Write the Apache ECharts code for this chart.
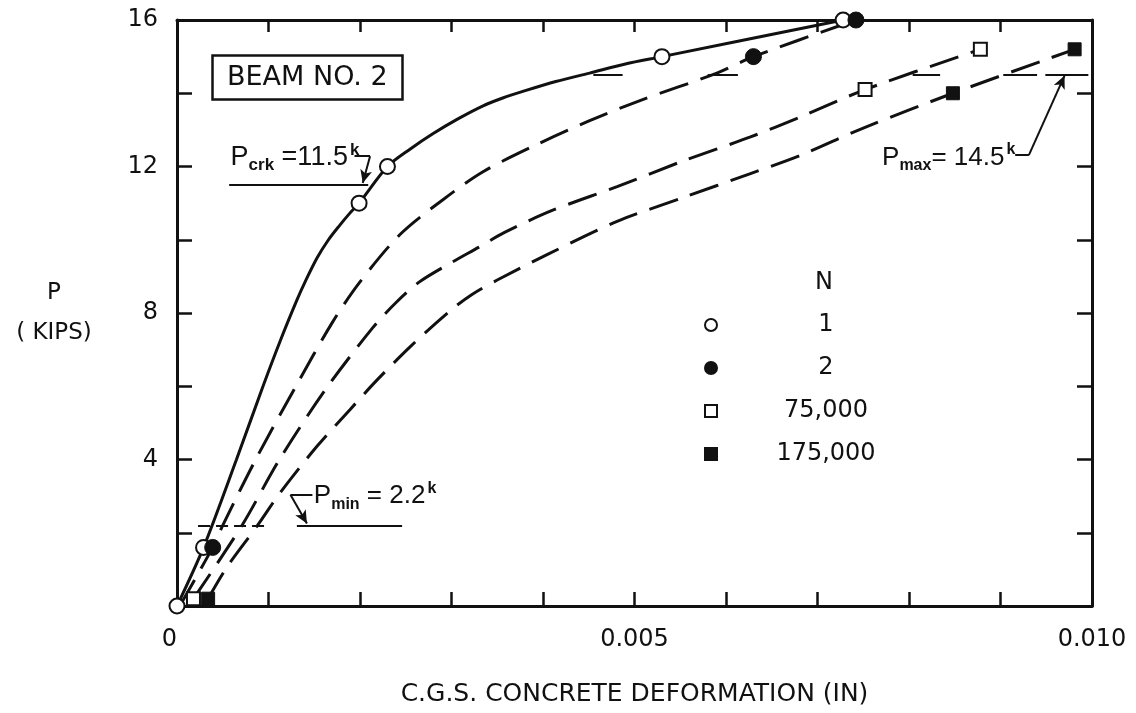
<!DOCTYPE html>
<html>
<head>
<meta charset="utf-8">
<script src="https://cdn.jsdelivr.net/npm/echarts@6/dist/echarts.min.js"></script>
<style>
  html, body { margin: 0; padding: 0; background: #ffffff; }
  #chart { width: 1136px; height: 713px; }
</style>
</head>
<body>
<div id="chart"></div>
<script>
// Load P (kips) against c.g.s. concrete deformation (in), beam no. 2,
// for the loading curves recorded after N cycles.

// N = 1 : smooth curve and measured points
const curveN1Def  = [0, 0.00029, 0.00065, 0.00094, 0.00113, 0.00131, 0.00140, 0.00153, 0.00165, 0.00178, 0.00188, 0.00199, 0.00230, 0.00255, 0.00280, 0.00307, 0.00334, 0.00356, 0.00378, 0.00414, 0.00451, 0.00490, 0.00530, 0.00728];
const curveN1Load = [0, 1.6, 4.0, 6.0, 7.25, 8.35, 8.85, 9.5, 9.98, 10.4, 10.7, 11.0, 12.0, 12.48, 12.9, 13.3, 13.65, 13.87, 14.05, 14.32, 14.55, 14.8, 15.0, 16.0];
const pointsN1Def  = [0, 0.00029, 0.00199, 0.00230, 0.00530, 0.00728];
const pointsN1Load = [0, 1.6, 11.0, 12.0, 15.0, 16.0];

// N = 2
const curveN2Def  = [0.00003, 0.00039, 0.00050, 0.00086, 0.00130, 0.00170, 0.00200, 0.00244, 0.00291, 0.00334, 0.00389, 0.00451, 0.00506, 0.00590, 0.00630, 0.00742];
const curveN2Load = [0, 1.6, 2.2, 4.0, 6.0, 7.75, 8.85, 10.15, 11.1, 11.85, 12.55, 13.25, 13.8, 14.55, 15.0, 16.0];
const pointsN2Def  = [0.00039, 0.00630, 0.00742];
const pointsN2Load = [1.6, 15.0, 16.0];

// N = 75,000
const curveN75Def  = [0.00018, 0.00071, 0.00112, 0.00162, 0.00214, 0.00240, 0.00265, 0.00298, 0.00330, 0.00358, 0.00410, 0.00481, 0.00553, 0.00626, 0.00681, 0.00752, 0.00878];
const curveN75Load = [0.2, 2.2, 4.0, 5.9, 7.6, 8.3, 8.85, 9.35, 9.8, 10.2, 10.8, 11.45, 12.15, 12.8, 13.35, 14.1, 15.2];
const pointsN75Def  = [0.00018, 0.00752, 0.00878];
const pointsN75Load = [0.2, 14.1, 15.2];

// N = 175,000
const curveN175Def  = [0.00034, 0.00055, 0.00088, 0.00113, 0.00153, 0.00189, 0.00219, 0.00257, 0.00298, 0.00322, 0.00350, 0.00405, 0.00481, 0.00553, 0.00626, 0.00681, 0.00750, 0.00848, 0.00981];
const curveN175Load = [0.2, 1.08, 2.2, 3.1, 4.36, 5.36, 6.18, 7.13, 8.05, 8.5, 8.9, 9.6, 10.5, 11.15, 11.8, 12.3, 13.05, 14.0, 15.2];
const pointsN175Def  = [0.00034, 0.00848, 0.00981];
const pointsN175Load = [0.2, 14.0, 15.2];

// Legend entries (number of cycles N)
const cycleLabels = ['1', '2', '75,000', '175,000'];

// Tick labels
const xLabelValues = [0, 0.005, 0.010];
const xLabelTexts  = ['0', '0.005', '0.010'];
const yLabelValues = [4, 8, 12, 16];

// Reference loads
const pCrack = 11.5;
const pMin = 2.2;
const pMax = 14.5;

const ink = '#111111';
const font = 'DejaVu Sans';
const noteFont = 'Liberation Sans';

const zip = (xs, ys) => xs.map((x, i) => [x, ys[i]]);

const curveLine = (data, dashed) => ({
  type: 'line',
  data,
  smooth: 0.3,
  showSymbol: false,
  symbol: 'none',
  silent: true,
  lineStyle: { color: ink, width: 3, type: dashed ? [30, 13] : 'solid', opacity: 1 },
  z: 3
});

const pointSeries = (name, data, shape, filled, size) => ({
  type: 'scatter',
  name,
  data,
  symbol: shape,
  symbolSize: size,
  silent: true,
  itemStyle: filled
    ? { color: ink, borderColor: ink, borderWidth: 1, opacity: 1 }
    : { color: '#ffffff', borderColor: ink, borderWidth: 2, opacity: 1 },
  z: 5
});

// rich-text styles for P_sub = value^k annotations
const annotRich = (size) => ({
  p: { fontFamily: noteFont, fontSize: size, color: ink, lineHeight: 32 },
  s: { fontFamily: noteFont, fontSize: Math.round(size * 0.62), fontWeight: 'bold', color: ink, lineHeight: 12, verticalAlign: 'bottom' },
  k: { fontFamily: noteFont, fontSize: Math.round(size * 0.62), fontWeight: 'bold', color: ink, lineHeight: 16, verticalAlign: 'top', padding: [0, 0, 0, 2] }
});

const annotLabel = (x, y, text, size) => ({
  value: [x, y],
  label: {
    show: true,
    position: 'right',
    distance: 0,
    color: ink,
    opacity: 1,
    formatter: text,
    rich: annotRich(size)
  }
});

const annotations = {
  type: 'scatter',
  name: 'annotations',
  silent: true,
  symbol: 'circle',
  symbolSize: 1,
  itemStyle: { color: 'rgba(0,0,0,0)', opacity: 1 },
  data: [
    annotLabel(0.00058, 12.25, '{p|P}{s|crk}{p| =11.5}{k|k}', 27),
    annotLabel(0.00149, 3.0, '{p|P}{s|min}{p| = 2.2}{k|k}', 26),
    annotLabel(0.00770, 12.25, '{p|P}{s|max}{p|= 14.5}{k|k}', 26)
  ],
  z: 6
};

const seg = (x1, y1, x2, y2, style) => [
  Object.assign({ coord: [x1, y1] }, style ? { lineStyle: style } : {}),
  { coord: [x2, y2] }
];
const arrowSeg = (x1, y1, x2, y2) => [
  { coord: [x1, y1], symbol: 'none' },
  { coord: [x2, y2], symbol: 'arrow', symbolSize: [9, 13] }
];

// reference-load lines and leaders
const guides = {
  type: 'line',
  name: 'guides',
  data: [],
  silent: true,
  markLine: {
    silent: true,
    animation: false,
    symbol: 'none',
    label: { show: false },
    lineStyle: { color: ink, width: 2, type: 'solid', opacity: 1 },
    emphasis: { disabled: true },
    data: [
      // P crk
      seg(0.00057, pCrack, 0.00209, pCrack),
      seg(0.00194, 12.28, 0.00211, 12.28),
      arrowSeg(0.00211, 12.28, 0.00203, pCrack + 0.05),
      // P min
      seg(0.00023, pMin, 0.00096, pMin, { type: [12, 6], width: 2 }),
      seg(0.00131, pMin, 0.00246, pMin),
      seg(0.00124, 3.04, 0.00148, 3.04),
      arrowSeg(0.00124, 3.04, 0.00142, pMin + 0.05),
      // P max
      seg(0.00455, pMax, 0.00487, pMax),
      seg(0.00580, pMax, 0.00613, pMax),
      seg(0.00804, pMax, 0.00834, pMax),
      seg(0.00903, pMax, 0.00940, pMax),
      seg(0.00949, pMax, 0.00996, pMax),
      seg(0.00916, 12.31, 0.00931, 12.31),
      arrowSeg(0.00931, 12.31, 0.00970, pMax - 0.02)
    ]
  },
  z: 4
};

const xLabel = (v) => {
  const idx = xLabelValues.findIndex(t => Math.abs(t - v) < 1e-7);
  return idx >= 0 ? xLabelTexts[idx] : '';
};
const yLabel = (v) => (yLabelValues.indexOf(Math.round(v)) >= 0 ? String(Math.round(v)) : '');

const axisLine = { show: true, onZero: false, lineStyle: { color: ink, width: 3 } };
const tickIn = (len) => ({ show: true, inside: true, length: len, lineStyle: { color: ink, width: 2.5 } });

const option = {
  backgroundColor: '#ffffff',
  animation: false,
  grid: { left: 177, right: 44, top: 20, bottom: 107, containLabel: false },
  title: {
    text: 'BEAM NO. 2',
    left: 212,
    top: 55,
    padding: [7, 15, 7, 15],
    borderColor: ink,
    borderWidth: 2.5,
    textStyle: { fontFamily: font, fontSize: 27, fontWeight: 'normal', color: ink, lineHeight: 31 }
  },
  legend: {
    data: cycleLabels,
    orient: 'vertical',
    left: 699,
    top: 305,
    itemWidth: 12,
    itemHeight: 12,
    itemGap: 13,
    selectedMode: false,
    formatter: (name) => '{c|' + name + '}',
    textStyle: {
      fontFamily: font, fontSize: 24, color: ink, lineHeight: 30,
      rich: { c: { fontFamily: font, fontSize: 24, color: ink, width: 208, align: 'center', lineHeight: 30 } }
    }
  },
  graphic: [
    {
      type: 'text',
      left: 815,
      top: 271,
      silent: true,
      style: { text: 'N', fontFamily: font, fontSize: 24, fill: ink }
    }
  ],
  xAxis: [
    {
      type: 'value',
      min: 0, max: 0.010, interval: 0.001,
      position: 'bottom',
      name: 'C.G.S. CONCRETE DEFORMATION (IN)',
      nameLocation: 'middle',
      nameGap: 76,
      nameTextStyle: { fontFamily: font, fontSize: 25, color: ink },
      axisLine,
      axisTick: tickIn(14),
      splitLine: { show: false },
      axisLabel: {
        formatter: xLabel, margin: 22, alignMinLabel: 'right',
        fontFamily: font, fontSize: 24, color: ink, showMinLabel: true, showMaxLabel: true
      }
    },
    {
      type: 'value',
      min: 0, max: 0.010, interval: 0.001,
      position: 'top',
      axisLine,
      axisTick: tickIn(12),
      splitLine: { show: false },
      axisLabel: { show: false }
    }
  ],
  yAxis: [
    {
      type: 'value',
      min: 0, max: 16, interval: 2,
      position: 'left',
      name: 'P\n( KIPS)',
      nameLocation: 'middle',
      nameRotate: 0,
      nameGap: 123,
      nameTextStyle: { fontFamily: font, fontSize: 23, color: ink, lineHeight: 40, align: 'center' },
      axisLine,
      axisTick: tickIn(15),
      splitLine: { show: false },
      axisLabel: { formatter: yLabel, margin: 19, fontFamily: font, fontSize: 24, color: ink, showMaxLabel: true }
    },
    {
      type: 'value',
      min: 0, max: 16, interval: 2,
      position: 'right',
      axisLine,
      axisTick: tickIn(15),
      splitLine: { show: false },
      axisLabel: { show: false }
    }
  ],
  series: [
    curveLine(zip(curveN1Def, curveN1Load), false),
    curveLine(zip(curveN2Def, curveN2Load), true),
    curveLine(zip(curveN75Def, curveN75Load), true),
    curveLine(zip(curveN175Def, curveN175Load), true),
    guides,
    pointSeries(cycleLabels[0], zip(pointsN1Def, pointsN1Load), 'circle', false, 15),
    pointSeries(cycleLabels[1], zip(pointsN2Def, pointsN2Load), 'circle', true, 16),
    pointSeries(cycleLabels[2], zip(pointsN75Def, pointsN75Load), 'rect', false, 13),
    pointSeries(cycleLabels[3], zip(pointsN175Def, pointsN175Load), 'rect', true, 13),
    annotations
  ]
};

const chart = echarts.init(document.getElementById('chart'), null, { renderer: 'canvas' });
chart.setOption(option);
</script>
</body>
</html>
